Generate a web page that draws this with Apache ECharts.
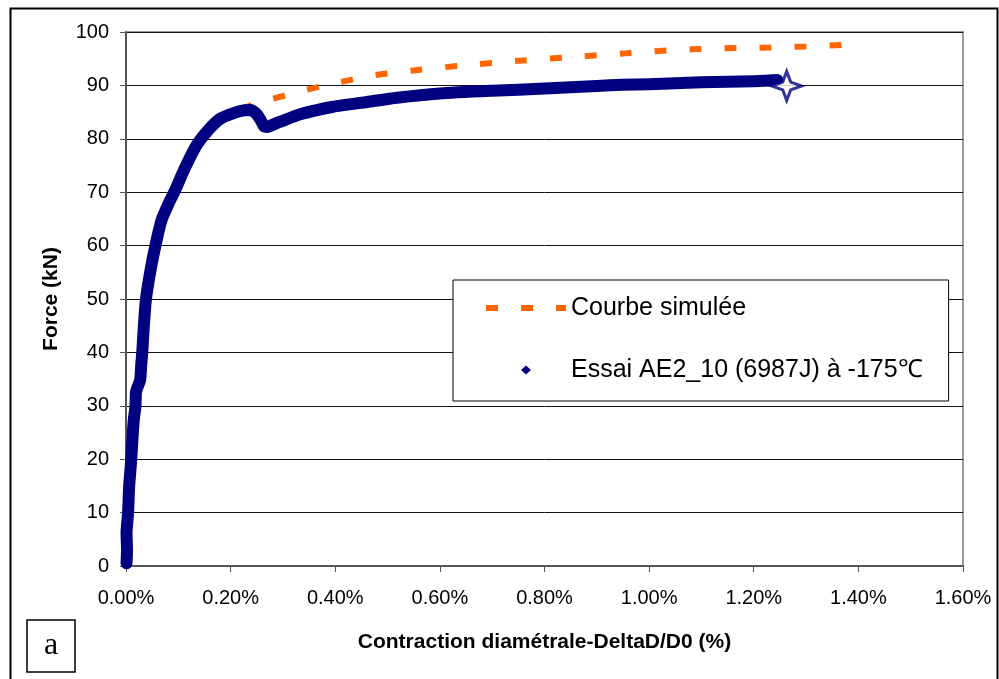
<!DOCTYPE html>
<html>
<head>
<meta charset="utf-8">
<script src="https://cdn.jsdelivr.net/npm/echarts@6/dist/echarts.min.js"></script>
<style>html,body{margin:0;padding:0;background:#fff;}#chart{width:999px;height:679px;}</style>
</head>
<body>
<div id="chart"></div>
<script>
// ---- data (x in %, y in kN) ----
const xTickLabels = ['0.00%', '0.20%', '0.40%', '0.60%', '0.80%', '1.00%', '1.20%', '1.40%', '1.60%'];
const yTickLabels = ['0', '10', '20', '30', '40', '50', '60', '70', '80', '90', '100'];

const simName = 'Courbe simulée';
const simX = [0, 0.005, 0.013, 0.018, 0.030, 0.038, 0.046, 0.056, 0.072, 0.098, 0.115, 0.140, 0.170, 0.200, 0.250, 0.274, 0.338, 0.408, 0.475, 0.550, 0.650, 0.750, 0.850, 0.955, 1.025, 1.092, 1.162, 1.230, 1.300, 1.380];
const simY = [0, 8, 20, 30, 40, 50, 55, 60, 66, 71, 75, 80.4, 83.2, 85.0, 86.6, 87.3, 89.0, 90.6, 91.9, 92.8, 93.8, 94.6, 95.3, 96.0, 96.5, 96.8, 97.0, 97.1, 97.3, 97.6];

const testName = 'Essai AE2_10 (6987J) à -175℃';
const testX = [0.001, 0.002, 0.001, 0.004, 0.006, 0.010, 0.013, 0.015, 0.018, 0.019, 0.021, 0.027, 0.029, 0.031, 0.034, 0.038, 0.046, 0.056, 0.068, 0.082, 0.095, 0.111, 0.133, 0.157, 0.181, 0.219, 0.238, 0.248, 0.257, 0.264, 0.270, 0.280, 0.295, 0.333, 0.396, 0.461, 0.518, 0.600, 0.700, 0.800, 0.900, 0.950, 1.000, 1.050, 1.100, 1.150, 1.200, 1.245];
const testY = [0.5, 3, 6.2, 10, 14.8, 19.9, 24.9, 27.5, 29.8, 32.5, 33.2, 34.8, 37.5, 39.9, 44.8, 49.8, 54.9, 59.9, 64.8, 68.0, 70.6, 74.2, 78.5, 81.6, 83.8, 85.2, 85.4, 84.8, 83.6, 82.3, 82.2, 82.6, 83.2, 84.6, 86.0, 86.9, 87.7, 88.5, 89.0, 89.4, 89.9, 90.1, 90.2, 90.4, 90.6, 90.7, 90.8, 91.0];

const endX = [1.263];
const endY = [89.9];

const zip = (a, b) => a.map((v, i) => [v, b[i]]);

const FONT = 'Liberation Sans, Arial, sans-serif';
const chart = echarts.init(document.getElementById('chart'), null, {renderer: 'canvas'});
chart.setOption({
  animation: false,
  backgroundColor: '#fff',
  grid: {left: 126, right: 36, top: 32, bottom: 113, show: true, borderColor: '#9a9a9a', borderWidth: 2, backgroundColor: 'transparent'},
  legend: {
    orient: 'vertical', left: 453, top: 280,
    data: [
      {name: simName, itemStyle: {color: 'rgba(0,0,0,0)', borderWidth: 0, opacity: 0}, lineStyle: {width: 6, color: '#FF6600', type: [12, 23]}},
      {name: testName, icon: 'path://M0,0 M80,10 M40,0.5 L45,5 L40,9.5 L35,5 Z'}
    ],
    backgroundColor: '#fff', borderColor: '#000', borderWidth: 1,
    padding: [13, 26, 16, 30], itemWidth: 80, itemHeight: 10, itemGap: 32,
    textStyle: {fontFamily: FONT, fontSize: 25, color: '#000', lineHeight: 30},
    selectedMode: false
  },
  xAxis: {
    type: 'value', min: 0, max: 1.6, interval: 0.2,
    name: 'Contraction diamétrale-DeltaD/D0 (%)', nameLocation: 'middle', nameGap: 66,
    nameTextStyle: {fontFamily: FONT, fontSize: 21, fontWeight: 'bold', color: '#000'},
    axisLine: {onZero: false, lineStyle: {color: '#555', width: 2}},
    axisTick: {show: true, inside: false, length: 6, lineStyle: {color: '#555', width: 1}},
    axisLabel: {margin: 22, fontFamily: FONT, fontSize: 20, color: '#000',
      formatter: v => xTickLabels[Math.round(v / 0.2)]},
    splitLine: {show: false}
  },
  yAxis: {
    type: 'value', min: 0, max: 100, interval: 10,
    name: 'Force (kN)', nameLocation: 'middle', nameGap: 64,
    nameTextStyle: {fontFamily: FONT, fontSize: 21, fontWeight: 'bold', color: '#000'},
    axisLine: {show: true, onZero: false, lineStyle: {color: '#555', width: 2}},
    axisTick: {show: true, inside: false, length: 6, lineStyle: {color: '#555', width: 1}},
    axisLabel: {margin: 17, fontFamily: FONT, fontSize: 20, color: '#000',
      formatter: v => yTickLabels[Math.round(v / 10)]},
    splitLine: {show: true, lineStyle: {color: '#111', width: 1}}
  },
  series: [
    {
      name: simName, type: 'line', data: zip(simX, simY), symbol: 'none', smooth: 0.3,
      lineStyle: {color: '#FF6600', width: 6, type: [12, 23], cap: 'butt'},
      itemStyle: {color: '#FF6600'}, z: 2
    },
    {
      name: testName, type: 'line', data: zip(testX, testY), symbol: 'none', smooth: 0.2,
      lineStyle: {color: '#000080', width: 12, cap: 'round', join: 'round'},
      itemStyle: {color: '#000080'}, z: 3
    },
    {
      name: 'end', type: 'scatter', data: zip(endX, endY),
      symbol: 'path://M0,-15 L4,-4 L15,0 L4,4 L0,15 L-4,4 L-15,0 L-4,-4 Z', symbolSize: [30, 29],
      itemStyle: {color: '#fff', borderColor: '#000080', borderWidth: 3}, z: 4
    }
  ],
  graphic: [
    {type: 'rect', left: 8, top: 6, shape: {x: 0, y: 0, width: 987, height: 700}, style: {fill: 'none', stroke: '#000', lineWidth: 2}, silent: true, z: 100},
    {type: 'rect', shape: {x: 27, y: 620, width: 48, height: 52}, style: {fill: '#fff', stroke: '#000', lineWidth: 1.5}, z: 100},
    {type: 'text', x: 51, y: 646, style: {text: 'a', font: '32px "Liberation Serif", "Times New Roman", serif', fill: '#000', textAlign: 'center', textVerticalAlign: 'middle'}, z: 101}
  ]
});
</script>
</body>
</html>
